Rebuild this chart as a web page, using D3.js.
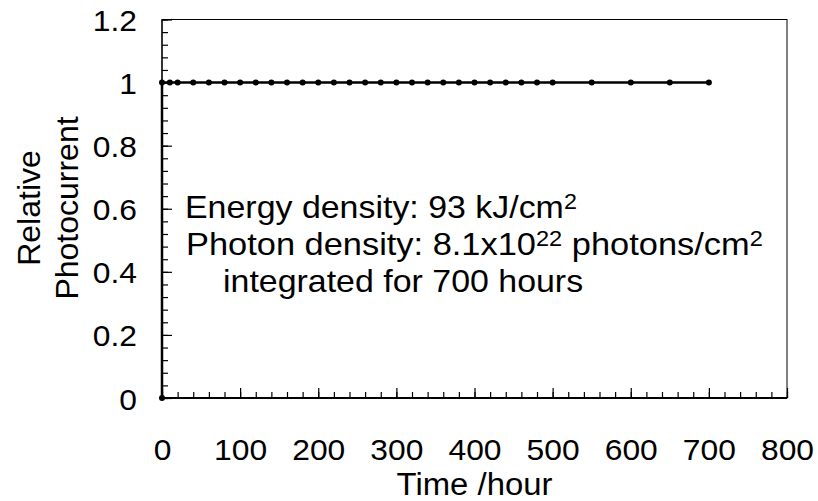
<!DOCTYPE html>
<html><head><meta charset="utf-8">
<script src="https://cdn.jsdelivr.net/npm/d3@7"></script>
<style>
body{margin:0;background:#fff}
text{font-family:"Liberation Sans",Arial,sans-serif;fill:#000}
</style>
</head><body>
<svg id="chart" width="818" height="501"></svg>
<script>
// ---- data ----
const hours = [0,0,10,20,40,60,80,100,120,140,160,180,200,220,240,260,280,300,320,340,360,380,400,420,440,460,480,500,550,600,650,700];
const relPhotocurrent = [0,1,1,1,1,1,1,1,1,1,1,1,1,1,1,1,1,1,1,1,1,1,1,1,1,1,1,1,1,1,1,1];
const xTickValues = [0,100,200,300,400,500,600,700,800];
const xMinorTicks = [0,20,40,60,80,100,120,140,160,180,200,220,240,260,280,300,320,340,360,380,400,420,440,460,480,500,520,540,560,580,600,620,640,660,680,700,720,740,760,780,800];
const yTickValues = [0,0.2,0.4,0.6,0.8,1,1.2];
const yMinorTicks = [0,0.04,0.08,0.12,0.16,0.2,0.24,0.28,0.32,0.36,0.4,0.44,0.48,0.52,0.56,0.6,0.64,0.68,0.72,0.76,0.8,0.84,0.88,0.92,0.96,1,1.04,1.08,1.12,1.16,1.2];
const xTitle = "Time /hour";
const yTitleLines = ["Relative","Photocurrent"];

// ---- layout ----
const SX = 1.06;
const svg = d3.select("#chart");
const x = d3.scaleLinear().domain([0,800]).range([162,787]);
const y = d3.scaleLinear().domain([0,1.2]).range([398,19.5]);

// frame
svg.append("rect").attr("x",x(0)).attr("y",y(1.2)).attr("width",x(800)-x(0)).attr("height",y(0)-y(1.2))
  .attr("fill","none").attr("stroke","#000").attr("stroke-width",1);

function styleAxis(g){ g.select(".domain").remove(); g.selectAll("line").attr("stroke","#000").attr("stroke-width",1.2); }

// x axis
svg.append("g").attr("transform",`translate(0,${y(0)})`)
  .call(d3.axisBottom(x).tickValues(xMinorTicks).tickSize(-6).tickFormat(""))
  .call(styleAxis);
const gx = svg.append("g").attr("transform",`translate(0,${y(0)})`)
  .call(d3.axisBottom(x).tickValues(xTickValues).tickSize(-10).tickFormat(d3.format("d")))
  .call(styleAxis);
gx.selectAll("text").attr("y",62).attr("dy",null).attr("font-size",30)
  .attr("font-family","Liberation Sans, Arial, sans-serif").attr("fill","#000")
  .attr("transform",`scale(${SX},1)`);
svg.append("line").attr("x1",x(0)).attr("x2",x(800)).attr("y1",y(0)).attr("y2",y(0))
  .attr("stroke","#000").attr("stroke-width",2.2);

// y axis
svg.append("g").attr("transform",`translate(${x(0)},0)`)
  .call(d3.axisLeft(y).tickValues(yMinorTicks).tickSize(-6).tickFormat(""))
  .call(styleAxis);
const gy = svg.append("g").attr("transform",`translate(${x(0)},0)`)
  .call(d3.axisLeft(y).tickValues(yTickValues).tickSize(-10).tickFormat(d3.format("~g")))
  .call(styleAxis);
gy.selectAll("text").attr("x",-25/SX).attr("dy",null).attr("y",11).attr("font-size",30)
  .attr("font-family","Liberation Sans, Arial, sans-serif").attr("fill","#000")
  .attr("text-anchor","end").attr("transform",`scale(${SX},1)`);
svg.append("line").attr("x1",x(0)).attr("x2",x(0)).attr("y1",y(0)).attr("y2",y(1.2))
  .attr("stroke","#000").attr("stroke-width",1.2);

// series
const pts = hours.map((h,i)=>[h,relPhotocurrent[i]]);
svg.append("path").datum(pts)
  .attr("d",d3.line().x(d=>x(d[0])).y(d=>y(d[1])))
  .attr("fill","none").attr("stroke","#000").attr("stroke-width",2.5);
svg.selectAll("circle.pt").data(pts).enter().append("circle").attr("class","pt")
  .attr("cx",d=>x(d[0])).attr("cy",d=>y(d[1])).attr("r",3).attr("fill","#000");

// axis titles
svg.append("text").attr("transform",`translate(${(x(0)+x(800))/2},495) scale(${SX},1)`)
  .attr("text-anchor","middle").attr("font-size",31).text(xTitle);
yTitleLines.forEach((t,i)=>{
  svg.append("text").attr("transform",`translate(${40+i*38},208) rotate(-90)`)
    .attr("text-anchor","middle").attr("font-size",32).text(t);
});

// annotation
function annot(xp, yp, parts, sx){
  const t = svg.append("text").attr("transform",`translate(${xp},${yp}) scale(${sx||SX},1)`).attr("font-size",32);
  let shift = 0;
  parts.forEach(p=>{
    const sup = p.sup === true;
    const dy = sup ? -9 - shift : -shift;
    t.append("tspan").attr("dy",dy).attr("font-size",sup?22:32).text(p.t);
    shift = sup ? -9 : 0;
  });
}
annot(185,218,[{t:"Energy density: 93 kJ/cm"},{t:"2",sup:true}]);
annot(186,255,[{t:"Photon density: 8.1x10"},{t:"22",sup:true},{t:" photons/cm"},{t:"2",sup:true}],1.075);
annot(223,292,[{t:"integrated for 700 hours"}]);
</script>
</body></html>
